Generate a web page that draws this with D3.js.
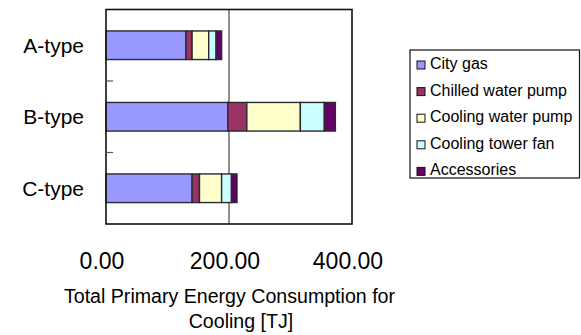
<!DOCTYPE html>
<html>
<head>
<meta charset="utf-8">
<script src="https://cdn.jsdelivr.net/npm/d3@7"></script>
<style>
  html, body { margin: 0; padding: 0; background: #fff; }
  svg { display: block; font-family: "Liberation Sans", Arial, sans-serif; }
</style>
</head>
<body>
<svg id="chart" width="581" height="335"></svg>
<script>
// Building types, listed top to bottom
const categories = ["A-type", "B-type", "C-type"];
// Energy components (stack order, left to right)
const series = ["City gas", "Chilled water pump", "Cooling water pump", "Cooling tower fan", "Accessories"];
// Primary energy consumption per component [TJ]
const cityGas          = [130, 198, 140];
const chilledWaterPump = [10, 31, 12];
const coolingWaterPump = [27, 87, 36];
const coolingTowerFan  = [12, 39, 16];
const accessories      = [9, 18, 9];
const xTicks = [0, 200, 400];
const colors = ["#9999FF", "#993366", "#FFFFCC", "#CCFFFF", "#660066"];

const rows = categories.map((c, i) => ({
  category: c,
  "City gas": cityGas[i],
  "Chilled water pump": chilledWaterPump[i],
  "Cooling water pump": coolingWaterPump[i],
  "Cooling tower fan": coolingTowerFan[i],
  "Accessories": accessories[i]
}));

const svg = d3.select("#chart");
const plot = { left: 106, right: 352, top: 9.5, bottom: 224 };

const x = d3.scaleLinear().domain([0, 400]).range([plot.left, plot.right]);
const y = d3.scaleBand().domain(categories).range([plot.top, plot.bottom])
  .paddingInner(0.6).paddingOuter(0.3);
const yCell = d3.scaleBand().domain(categories).range([plot.top, plot.bottom]);
const color = d3.scaleOrdinal().domain(series).range(colors);

const stacked = d3.stack().keys(series)(rows);

// vertical gridline(s)
svg.append("g")
  .selectAll("line")
  .data(xTicks.filter(t => t > 0 && t < 400))
  .join("line")
  .attr("x1", d => x(d)).attr("x2", d => x(d))
  .attr("y1", plot.top).attr("y2", plot.bottom)
  .attr("stroke", "#222").attr("stroke-width", 1);

// stacked bars
svg.append("g")
  .selectAll("g")
  .data(stacked)
  .join("g")
  .attr("fill", d => color(d.key))
  .selectAll("rect")
  .data(d => d)
  .join("rect")
  .attr("x", d => x(d[0]))
  .attr("width", d => x(d[1]) - x(d[0]))
  .attr("y", d => y(d.data.category))
  .attr("height", y.bandwidth())
  .attr("stroke", "#2a2a33")
  .attr("stroke-width", 1.4);

// plot frame
svg.append("rect")
  .attr("x", plot.left).attr("y", plot.top)
  .attr("width", plot.right - plot.left).attr("height", plot.bottom - plot.top)
  .attr("fill", "none").attr("stroke", "#111").attr("stroke-width", 1.6);

// category separator ticks on the left axis
svg.append("g")
  .selectAll("line")
  .data(categories.slice(1))
  .join("line")
  .attr("x1", plot.left).attr("x2", plot.left + 7)
  .attr("y1", d => yCell(d)).attr("y2", d => yCell(d))
  .attr("stroke", "#555").attr("stroke-width", 1.2);

// category labels
svg.append("g")
  .selectAll("text")
  .data(categories)
  .join("text")
  .attr("x", 84)
  .attr("y", d => y(d) + y.bandwidth() / 2)
  .attr("dy", "0.36em")
  .attr("text-anchor", "end")
  .attr("font-size", 21)
  .attr("fill", "#000")
  .text(d => d);

// x tick labels
svg.append("g")
  .selectAll("text")
  .data(xTicks)
  .join("text")
  .attr("x", d => x(d) - 4)
  .attr("y", 269)
  .attr("text-anchor", "middle")
  .attr("font-size", 23)
  .attr("fill", "#000")
  .text(d => d3.format(".2f")(d));

// x axis title
svg.append("text")
  .attr("x", 229.5).attr("y", 303)
  .attr("text-anchor", "middle").attr("font-size", 19.6).attr("fill", "#000")
  .text("Total Primary Energy Consumption for");
svg.append("text")
  .attr("x", 241).attr("y", 328)
  .attr("text-anchor", "middle").attr("font-size", 19.6).attr("fill", "#000")
  .text("Cooling [TJ]");

// legend
const legend = svg.append("g");
legend.append("rect")
  .attr("x", 410).attr("y", 50)
  .attr("width", 169.5).attr("height", 128)
  .attr("fill", "#fff").attr("stroke", "#111").attr("stroke-width", 1.2);
const item = legend.selectAll("g.item")
  .data(series)
  .join("g")
  .attr("class", "item")
  .attr("transform", (d, i) => `translate(417, ${69 + i * 26.6})`);
item.append("rect")
  .attr("x", 0).attr("y", -8)
  .attr("width", 8).attr("height", 8)
  .attr("fill", d => color(d))
  .attr("stroke", "#111").attr("stroke-width", 1);
item.append("text")
  .attr("x", 13).attr("y", 0)
  .attr("font-size", 16).attr("fill", "#000")
  .text(d => d);
</script>
</body>
</html>
